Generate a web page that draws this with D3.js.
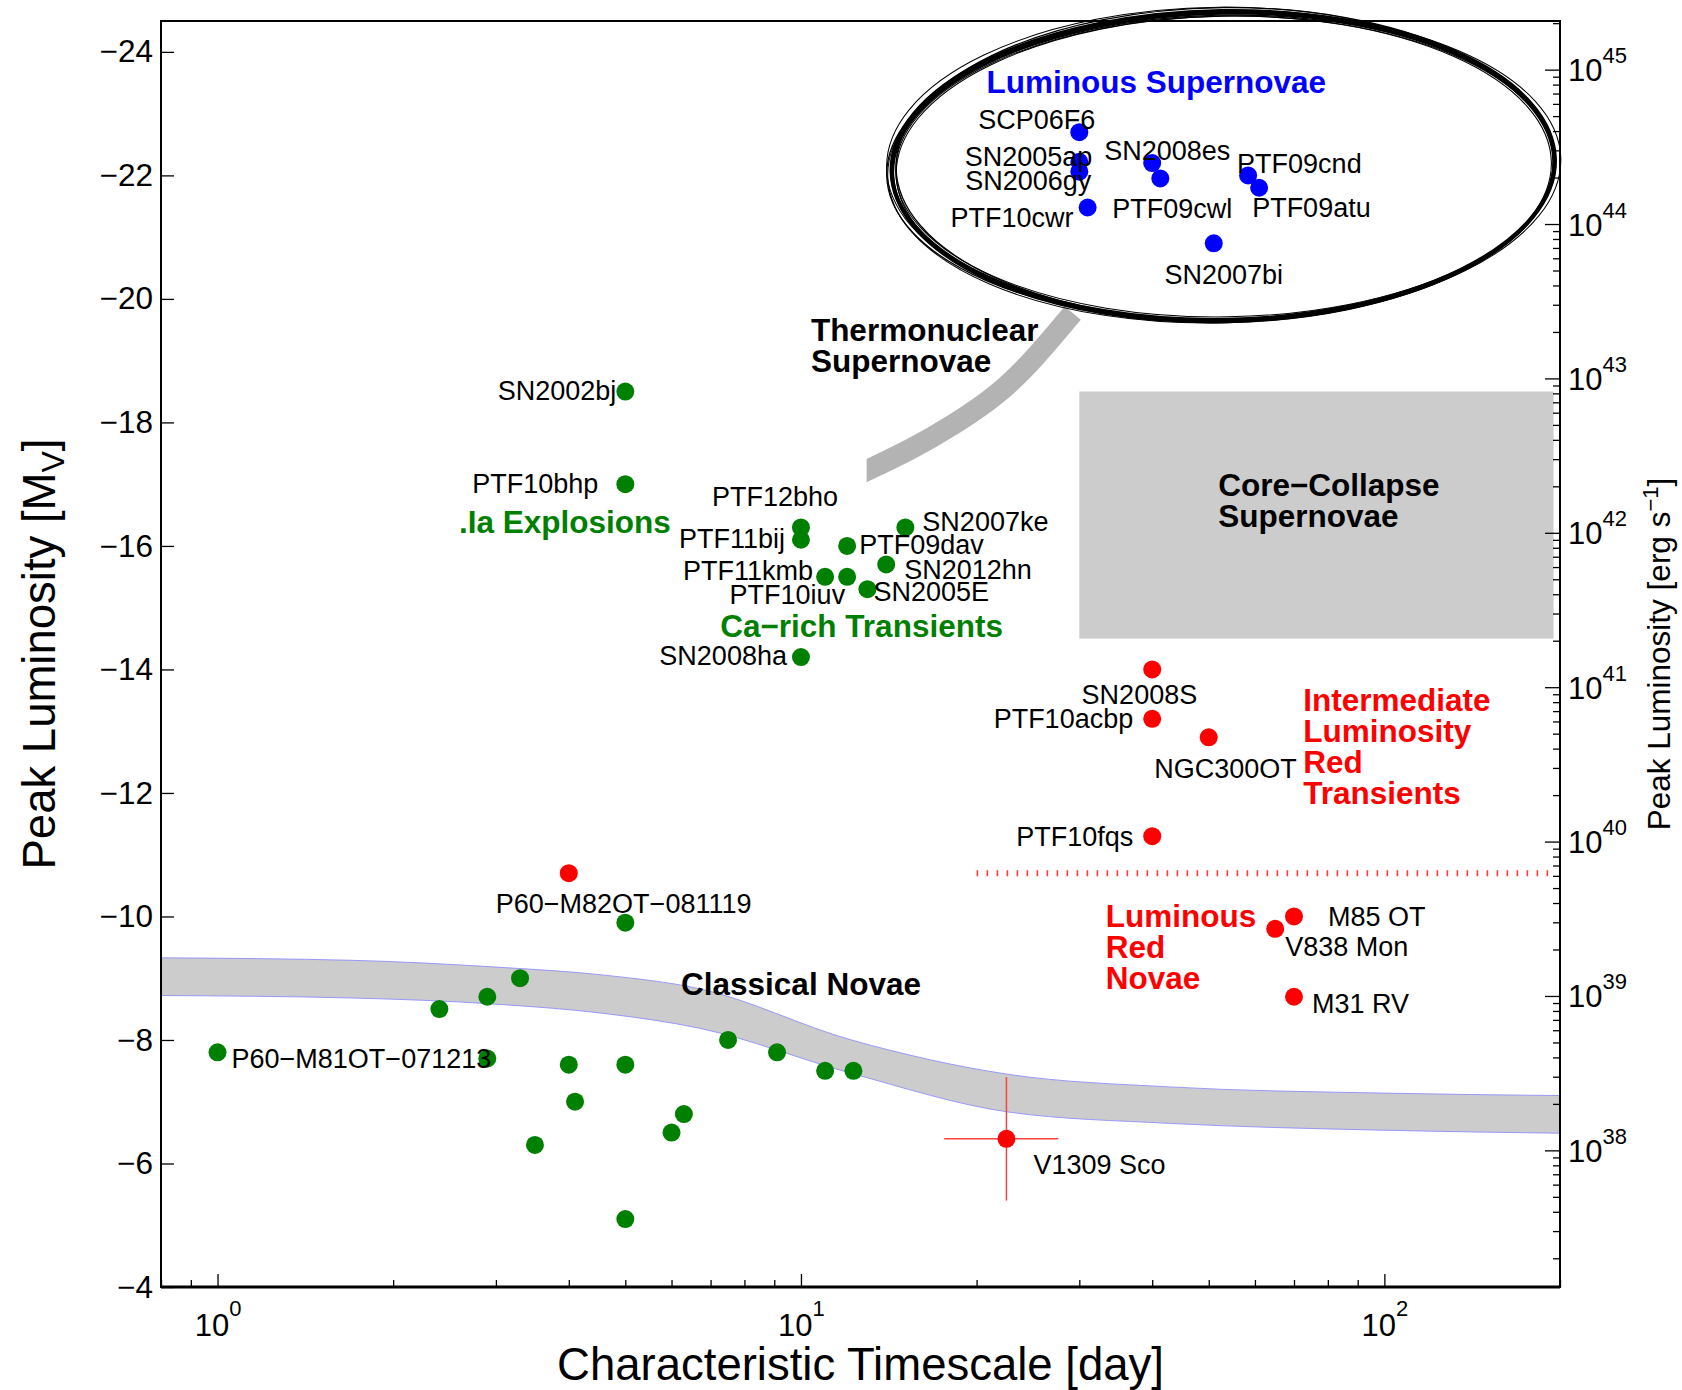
<!DOCTYPE html>
<html>
<head>
<meta charset="utf-8">
<title>Transient phase space</title>
<script src="https://d3js.org/d3.v7.min.js"></script>
<style>
  body { margin: 0; background: #fff; }
  #viz { font-family: "Liberation Sans", Arial, Helvetica, sans-serif; display: block; }
</style>
</head>
<body>
<svg id="viz"></svg>
<script>
var width = 1682;
var height = 1390;

// ---- data: characteristic timescale [day], peak M_V ----
var blueNames = ["SCP06F6", "SN2005ap", "SN2006gy", "PTF10cwr", "SN2008es", "PTF09cwl", "PTF09cnd", "PTF09atu", "SN2007bi"];
var blueT = [30, 30, 30, 31, 40, 41.3, 58.4, 61, 51];
var blueM = [-22.7, -22.22, -22.06, -21.48, -22.2, -21.95, -22.0, -21.8, -20.9];

var greenNames = ["SN2002bj", "PTF10bhp", "PTF12bho", "PTF11bij", "PTF09dav", "SN2007ke", "SN2012hn", "PTF11kmb", "PTF10iuv", "SN2005E", "SN2008ha", "P60\u2212M81OT\u2212071213"];
var greenT = [5, 5, 10, 10, 12, 15.1, 14, 11, 12, 13, 10, 1.0];
var greenM = [-18.5, -17.0, -16.3, -16.1, -16.0, -16.3, -15.7, -15.5, -15.5, -15.3, -14.2, -7.8];

// unlabelled classical novae
var novaeT = [5, 3.3, 2.9, 2.4, 2.9, 4.0, 5, 4.1, 3.5, 6.0, 6.3, 5, 7.5, 9.1, 11, 12.3];
var novaeM = [-9.9, -9.0, -8.7, -8.5, -7.7, -7.6, -7.6, -7.0, -6.3, -6.5, -6.8, -5.1, -8.0, -7.8, -7.5, -7.5];

var redNames = ["P60\u2212M82OT\u2212081119", "SN2008S", "PTF10acbp", "NGC300OT", "PTF10fqs", "M85 OT", "V838 Mon", "M31 RV", "V1309 Sco"];
var redT = [4.0, 40, 40, 50, 40, 70, 65, 70, 22.5];
var redM = [-10.7, -14.0, -13.2, -12.9, -11.3, -10.0, -9.8, -8.7, -6.4];

// V1309 Sco error bars
var scoT = [17.6, 27.6];
var scoM = [-7.4, -5.4];

// classical novae band edges
var bandT = [0.8, 1.7, 3, 4.6, 6.7, 12.2, 22.8, 42.8, 98.5, 200];
var bandUpper = [-9.33, -9.29, -9.18, -9.05, -8.83, -8.0, -7.44, -7.24, -7.14, -7.10];
var bandLower = [-8.72, -8.68, -8.58, -8.43, -8.19, -7.46, -6.83, -6.65, -6.54, -6.49];

// core-collapse box
var ccT = [30, 195];
var ccM = [-18.5, -14.5];

// ILRT / LRN divider
var dividerT = [20, 200];
var dividerM = -10.7;

// thermonuclear swoosh
var swooshT = [11.98, 12.96, 15.49, 18.34, 21.73, 25.2, 29.23];
var swooshM = [-17.07, -17.22, -17.58, -17.98, -18.47, -19.06, -19.77];

// luminous SN ellipse extent
var ellT = [14.3, 196];
var ellM = [-24.66, -19.66];

// ticks
var magTicks = [-24, -22, -20, -18, -16, -14, -12, -10, -8, -6, -4];
var dayTicks = [1, 10, 100];
var lumExps = [38, 39, 40, 41, 42, 43, 44, 45];

// ---- layout ----
var pLeft = 161, pRight = 1560, pTop = 21, pBottom = 1287;

var svg = d3.select("#viz")
    .attr("width", width)
    .attr("height", height);

var x = d3.scaleLog().domain([0.8, 200]).range([pLeft, pRight]);
var y = d3.scaleLinear().domain([-4, -24.5]).range([pBottom, pTop]);
// M_V -> erg/s (M_sun = 4.83, L_sun = 3.83e33)
var yL = d3.scaleLog()
    .domain([Math.pow(10, 33.583 + (4.83 + 4) / 2.5), Math.pow(10, 33.583 + (4.83 + 24.5) / 2.5)])
    .range([pBottom, pTop]);

// label offsets [anchor, dx, dy] from the dot
var labelPos = {
    "SCP06F6": ["end", 16, -3],
    "SN2005ap": ["end", 13, 4],
    "SN2006gy": ["end", 12, 18],
    "PTF10cwr": ["end", -14, 19],
    "SN2008es": ["start", -48, -3],
    "PTF09cwl": ["start", -48, 40],
    "PTF09cnd": ["start", -11, -2],
    "PTF09atu": ["start", -7, 29],
    "SN2007bi": ["middle", 10, 41],
    "SN2002bj": ["end", -9, 8],
    "PTF10bhp": ["end", -27, 9],
    "PTF12bho": ["middle", -26, -21],
    "PTF11bij": ["end", -16, 8],
    "PTF09dav": ["start", 12, 8],
    "SN2007ke": ["start", 17, 4],
    "SN2012hn": ["start", 18, 15],
    "PTF11kmb": ["end", -12, 3],
    "PTF10iuv": ["end", -2, 27],
    "SN2005E": ["start", 6, 12],
    "SN2008ha": ["end", -14, 8],
    "P60\u2212M81OT\u2212071213": ["start", 14, 16],
    "P60\u2212M82OT\u2212081119": ["start", -73, 40],
    "SN2008S": ["end", 45, 35],
    "PTF10acbp": ["end", -19, 9],
    "NGC300OT": ["end", 88, 41],
    "PTF10fqs": ["end", -19, 10],
    "M85 OT": ["start", 34, 10],
    "V838 Mon": ["start", 10, 27],
    "M31 RV": ["start", 18, 16],
    "V1309 Sco": ["start", 27, 35]
};

var groups = [
    {lines: ["Luminous Supernovae"], t: 20.8, M: -23.33, color: "#0000ff"},
    {lines: ["Thermonuclear", "Supernovae"], t: 10.4, M: -19.32, color: "#000"},
    {lines: [".Ia Explosions"], t: 2.594, M: -16.21, color: "#008000"},
    {lines: ["Ca\u2212rich Transients"], t: 7.27, M: -14.53, color: "#008000"},
    {lines: ["Core\u2212Collapse", "Supernovae"], t: 51.9, M: -16.81, color: "#000"},
    {lines: ["Intermediate", "Luminosity", "Red", "Transients"], t: 72.6, M: -13.33, color: "#ff0000"},
    {lines: ["Luminous", "Red", "Novae"], t: 33.3, M: -9.83, color: "#ff0000"},
    {lines: ["Classical Novae"], t: 6.23, M: -8.73, color: "#000"}
];

var plot = svg.append("g");

//novae band
var band = bandT.map(function (t, i) { return {t: t, hi: bandUpper[i], lo: bandLower[i]}; });
plot.append("path")
    .datum(band)
    .attr("fill", "#cccccc")
    .attr("d", d3.area().curve(d3.curveMonotoneX)
        .x(function (d) { return x(d.t); })
        .y0(function (d) { return y(d.lo); })
        .y1(function (d) { return y(d.hi); }));
["hi", "lo"].forEach(function (k) {
    plot.append("path")
        .datum(band)
        .attr("fill", "none")
        .attr("stroke", "#8f8fff")
        .attr("stroke-width", 0.9)
        .attr("d", d3.line().curve(d3.curveMonotoneX)
            .x(function (d) { return x(d.t); })
            .y(function (d) { return y(d[k]); }));
});

//core collapse box
plot.append("rect")
    .attr("x", x(ccT[0]))
    .attr("y", y(ccM[0]))
    .attr("width", x(ccT[1]) - x(ccT[0]))
    .attr("height", y(ccM[1]) - y(ccM[0]))
    .attr("fill", "#cccccc");

//dotted divider
plot.append("line")
    .attr("x1", x(dividerT[0]))
    .attr("x2", x(dividerT[1]) - 6)
    .attr("y1", y(dividerM))
    .attr("y2", y(dividerM))
    .attr("stroke", "#ff3b3b")
    .attr("stroke-width", 6)
    .attr("stroke-dasharray", "1.6 8.4");

//swoosh, cut square at its lower end
svg.append("clipPath").attr("id", "swclip")
    .append("rect")
    .attr("x", x(swooshT[1]))
    .attr("y", 0)
    .attr("width", width)
    .attr("height", height);
plot.append("path")
    .datum(swooshT.map(function (t, i) { return [t, swooshM[i]]; }))
    .attr("clip-path", "url(#swclip)")
    .attr("fill", "none")
    .attr("stroke", "#b3b3b3")
    .attr("stroke-width", 21)
    .attr("d", d3.line().curve(d3.curveNatural)
        .x(function (d) { return x(d[0]); })
        .y(function (d) { return y(d[1]); }));

//error bars
var sco = redNames.indexOf("V1309 Sco");
plot.append("line")
    .attr("x1", x(scoT[0])).attr("x2", x(scoT[1]))
    .attr("y1", y(redM[sco])).attr("y2", y(redM[sco]))
    .attr("stroke", "#ff4040").attr("stroke-width", 1.5);
plot.append("line")
    .attr("x1", x(redT[sco])).attr("x2", x(redT[sco]))
    .attr("y1", y(scoM[0])).attr("y2", y(scoM[1]))
    .attr("stroke", "#ff4040").attr("stroke-width", 1.5);

//dots
function dots(ts, ms, color) {
    plot.append("g").selectAll("circle")
        .data(ts)
        .enter().append("circle")
        .attr("cx", function (d) { return x(d); })
        .attr("cy", function (d, i) { return y(ms[i]); })
        .attr("r", 9)
        .attr("fill", color);
}
dots(novaeT, novaeM, "#008000");
dots(greenT, greenM, "#008000");
dots(redT, redM, "#ff0000");
dots(blueT, blueM, "#0000ff");

//names
function names(ns, ts, ms) {
    plot.append("g").selectAll("text")
        .data(ns)
        .enter().append("text")
        .attr("x", function (d, i) { return x(ts[i]) + labelPos[d][1]; })
        .attr("y", function (d, i) { return y(ms[i]) + labelPos[d][2]; })
        .attr("text-anchor", function (d) { return labelPos[d][0]; })
        .attr("font-size", 27)
        .attr("fill", "#000")
        .text(function (d) { return d; });
}
names(blueNames, blueT, blueM);
names(greenNames, greenT, greenM);
names(redNames, redT, redM);

//group labels
groups.forEach(function (g) {
    var t = plot.append("text")
        .attr("x", x(g.t))
        .attr("y", y(g.M))
        .attr("font-size", 31.5)
        .attr("font-weight", "bold")
        .attr("fill", g.color);
    g.lines.forEach(function (line, i) {
        t.append("tspan")
            .attr("x", x(g.t))
            .attr("dy", i === 0 ? 0 : 31)
            .text(line);
    });
});

//axes
var axes = svg.append("g");

var leftAxis = axes.append("g")
    .attr("transform", "translate(" + pLeft + ",0)")
    .call(d3.axisLeft(y).tickValues(magTicks).tickSize(-13).tickPadding(8));
leftAxis.select(".domain").remove();
leftAxis.selectAll("text").attr("font-size", 31.5);
leftAxis.attr("font-family", null).attr("font-size", null);

var minorDays = x.ticks().filter(function (d) { return dayTicks.indexOf(d) < 0; });
var bottomMinor = axes.append("g")
    .attr("transform", "translate(0," + pBottom + ")")
    .call(d3.axisBottom(x).tickValues(minorDays).tickSize(-7).tickFormat(""));
bottomMinor.select(".domain").remove();
var bottomAxis = axes.append("g")
    .attr("transform", "translate(0," + pBottom + ")")
    .call(d3.axisBottom(x).tickValues(dayTicks).tickSize(-13).tickFormat(""));
bottomAxis.select(".domain").remove();
bottomAxis.attr("font-family", null);
bottomAxis.selectAll(".tick").each(function (d) {
    var txt = d3.select(this).append("text")
        .attr("y", 49)
        .attr("text-anchor", "middle")
        .attr("fill", "#000")
        .attr("font-size", 31);
    txt.append("tspan").text("10");
    txt.append("tspan").attr("dy", -20).attr("font-size", 22).text(Math.round(Math.log10(d)));
});

var lumMajor = lumExps.map(function (e) { return Math.pow(10, e); });
var lumMinor = yL.ticks().filter(function (d) {
    var e = Math.log10(d);
    return Math.abs(e - Math.round(e)) > 1e-6;
});
var rightMinor = axes.append("g")
    .attr("transform", "translate(" + pRight + ",0)")
    .call(d3.axisRight(yL).tickValues(lumMinor).tickSize(-7).tickFormat(""));
rightMinor.select(".domain").remove();
var rightAxis = axes.append("g")
    .attr("transform", "translate(" + pRight + ",0)")
    .call(d3.axisRight(yL).tickValues(lumMajor).tickSize(-15).tickFormat(""));
rightAxis.select(".domain").remove();
rightAxis.attr("font-family", null);
rightAxis.selectAll(".tick").each(function (d) {
    var txt = d3.select(this).append("text")
        .attr("x", 8)
        .attr("y", 11)
        .attr("fill", "#000")
        .attr("font-size", 31);
    txt.append("tspan").text("10");
    txt.append("tspan").attr("dy", -18).attr("font-size", 22).text(Math.round(Math.log10(d)));
});
axes.selectAll(".tick line").attr("stroke", "#000").attr("stroke-width", 1.3);

//frame
axes.append("rect")
    .attr("x", pLeft).attr("y", pTop)
    .attr("width", pRight - pLeft).attr("height", pBottom - pTop)
    .attr("fill", "none").attr("stroke", "#000").attr("stroke-width", 2);
axes.append("line")
    .attr("x1", pLeft).attr("x2", pRight)
    .attr("y1", pBottom).attr("y2", pBottom)
    .attr("stroke", "#000").attr("stroke-width", 3.2);

//titles
var ylab = axes.append("text")
    .attr("transform", "translate(55," + ((pTop + pBottom) / 2) + ") rotate(-90)")
    .attr("text-anchor", "middle")
    .attr("font-size", 45.5);
ylab.append("tspan").text("Peak Luminosity [M");
ylab.append("tspan").attr("dy", 9).attr("font-size", 32).text("V");
ylab.append("tspan").attr("dy", -9).text("]");

axes.append("text")
    .attr("x", (pLeft + pRight) / 2)
    .attr("y", 1380)
    .attr("text-anchor", "middle")
    .attr("font-size", 45.5)
    .text("Characteristic Timescale [day]");

var rlab = axes.append("text")
    .attr("transform", "translate(1670," + ((pTop + pBottom) / 2) + ") rotate(-90)")
    .attr("text-anchor", "middle")
    .attr("font-size", 31.5);
rlab.append("tspan").text("Peak Luminosity [erg s");
rlab.append("tspan").attr("dy", -12).attr("font-size", 22).text("\u22121");
rlab.append("tspan").attr("dy", 12).text("]");

//hand drawn ellipse round the luminous SNe
var ecx = (x(ellT[0]) + x(ellT[1])) / 2;
var ecy = (y(ellM[0]) + y(ellM[1])) / 2;
var erx = (x(ellT[1]) - x(ellT[0])) / 2;
var ery = (y(ellM[1]) - y(ellM[0])) / 2;
// [dx, dy, drx, dry, rotation, width] for each pen stroke
var sketch = [
    [0, 0, 0, 0, -1.0, 4.2],
    [0, 2, -1, 0, -1.1, 3.0],
    [1.5, -1.5, -3, 2, -0.6, 1.3],
    [-2, 2, 3, -2, -1.4, 1.3],
    [0.5, 3, -4, -2, -1.1, 1.1],
    [-3, -1, 2, 3, -0.5, 1.0],
    [1, 2, 5, 1, -1.6, 1.0],
    [2, 1, -2, -4, -0.9, 1.0]
];
svg.append("g").selectAll("ellipse")
    .data(sketch)
    .enter().append("ellipse")
    .attr("cx", function (d) { return ecx + d[0]; })
    .attr("cy", function (d) { return ecy + d[1]; })
    .attr("rx", function (d) { return erx + d[2]; })
    .attr("ry", function (d) { return ery + d[3]; })
    .attr("transform", function (d) { return "rotate(" + d[4] + "," + ecx + "," + ecy + ")"; })
    .attr("fill", "none")
    .attr("stroke", "#000")
    .attr("stroke-width", function (d) { return d[5]; });
</script>
</body>
</html>
